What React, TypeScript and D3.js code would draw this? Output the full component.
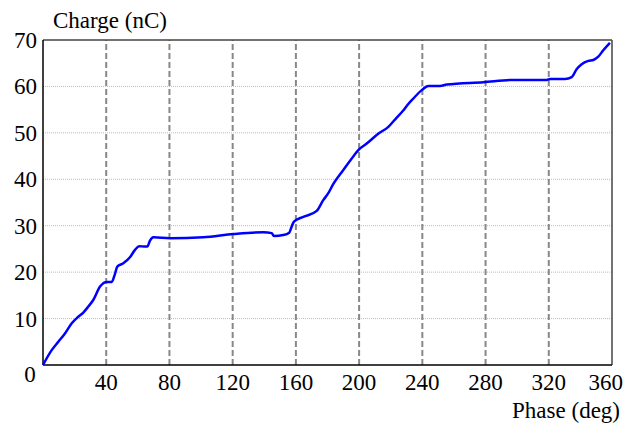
import React from "react";
import * as d3 from "d3";

// phase (deg) and accumulated charge (nC)
const phase = [
  0, 5.5, 9.7, 13.9, 18.2, 22.3, 25.5, 28.7, 31.8, 36.1, 40.3, 43.5, 45.6, 47.0,
  50.8, 55.0, 58.2, 60.9, 64.5, 66.0, 67.7, 69.8, 80.3, 101.4, 120.4, 139.4,
  144.7, 146.1, 152.0, 155.8, 157.3, 158.8, 164.7, 173.2, 177.3, 180.5, 183.7,
  190.0, 196.3, 199.5, 204.8, 212.1, 218.5, 223.8, 227.9, 230.1, 234.3, 239.6,
  243.8, 251.2, 255.4, 278.6, 297.6, 318.7, 320.8, 330.3, 334.5, 337.6, 340.8,
  345.0, 348.2, 351.3, 354.5, 358.7,
];
const charge = [
  0, 3.2, 5.0, 6.8, 9.0, 10.4, 11.3, 12.6, 14.0, 16.9, 17.9, 17.9, 19.7, 21.2,
  21.9, 23.2, 24.8, 25.6, 25.5, 25.5, 26.8, 27.5, 27.3, 27.5, 28.2, 28.6, 28.4,
  27.8, 28.0, 28.5, 29.8, 30.9, 31.9, 33.2, 35.5, 37.0, 39.0, 42.0, 44.9, 46.3,
  47.7, 49.8, 51.3, 53.3, 54.8, 55.8, 57.4, 59.2, 60.1, 60.1, 60.4, 60.9, 61.4,
  61.4, 61.6, 61.6, 62.0, 63.7, 64.8, 65.5, 65.7, 66.4, 67.8, 69.4,
];
const xTicks = [40, 80, 120, 160, 200, 240, 280, 320, 360];
const yTicks = [10, 20, 30, 40, 50, 60, 70];

const W = 636;
const H = 426;
const SERIF = "Times New Roman";

function Label(props: { x: number; y: number; anchor?: string; children: React.ReactNode }) {
  return (
    <text
      x={props.x}
      y={props.y}
      textAnchor={props.anchor ?? "start"}
      fontSize={23}
      fontFamily={SERIF}
      style={{ fontFamily: SERIF }}
    >
      {props.children}
    </text>
  );
}

export default function App() {
  const x = d3.scaleLinear().domain([0, 360]).range([43, 612]);
  const y = d3.scaleLinear().domain([0, 70]).range([365, 40]);

  const pts: [number, number][] = phase.map((p, i) => [p, charge[i]]);
  const line = d3
    .line<[number, number]>()
    .x((d) => x(d[0]))
    .y((d) => y(d[1]))
    .curve(d3.curveMonotoneX);

  return (
    <svg width={W} height={H} style={{ position: "absolute", left: 0, top: 0 }}>
      {/* horizontal grid, dotted */}
      {yTicks
        .filter((t) => t < 70)
        .map((t) => (
          <line
            key={"h" + t}
            x1={x(0)}
            x2={x(360)}
            y1={y(t)}
            y2={y(t)}
            stroke="#bbb"
            strokeWidth={1}
            strokeDasharray="1,1"
          />
        ))}
      {/* vertical grid, dashed */}
      {xTicks
        .filter((t) => t < 360)
        .map((t) => (
          <line
            key={"v" + t}
            x1={x(t)}
            x2={x(t)}
            y1={y(0)}
            y2={y(70)}
            stroke="#888"
            strokeWidth={2}
            strokeDasharray="6,3"
          />
        ))}

      {/* frame */}
      <line x1={x(0)} x2={x(360)} y1={y(70)} y2={y(70)} stroke="#444" strokeWidth={1.5} />
      <line x1={x(360)} x2={x(360)} y1={y(0)} y2={y(70)} stroke="#444" strokeWidth={1.5} />
      <line x1={x(0)} x2={x(360)} y1={y(0)} y2={y(0)} stroke="#000" strokeWidth={1.5} />
      <line x1={x(0)} x2={x(0)} y1={y(0)} y2={y(70)} stroke="#000" strokeWidth={1.5} />

      <path d={line(pts) ?? ""} fill="none" stroke="#0000ff" strokeWidth={2.5} strokeLinejoin="round" />

      {/* y tick labels */}
      {yTicks.map((t) => (
        <Label key={"yl" + t} x={37} y={y(t) + 8} anchor="end">
          {t}
        </Label>
      ))}
      <Label x={30} y={382} anchor="middle">
        0
      </Label>

      {/* x tick labels */}
      {xTicks.map((t) => (
        <Label key={"xl" + t} x={t === 360 ? 623 : x(t)} y={390} anchor={t === 360 ? "end" : "middle"}>
          {t}
        </Label>
      ))}

      <Label x={53} y={28}>
        Charge (nC)
      </Label>
      <Label x={620} y={418} anchor="end">
        Phase (deg)
      </Label>
    </svg>
  );
}
